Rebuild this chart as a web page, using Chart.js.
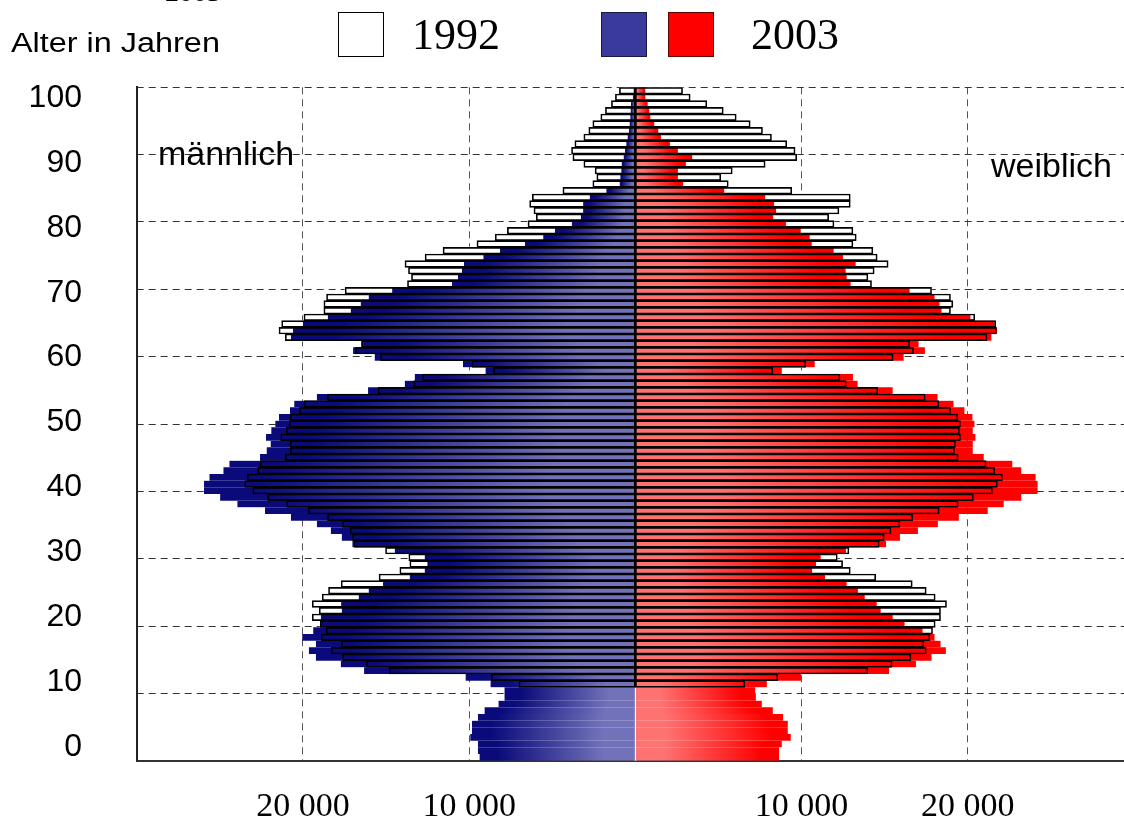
<!DOCTYPE html>
<html>
<head>
<meta charset="utf-8">
<script src="https://cdn.jsdelivr.net/npm/chart.js@4.4.0/dist/chart.umd.min.js"></script>
<style>
  html, body { margin: 0; padding: 0; background: #fff; overflow: hidden; }
  #wrap { position: relative; width: 1124px; height: 820px; overflow: hidden; }
  #wrap canvas { position: absolute; left: 0; top: 0; }
  .t { position: absolute; line-height: 0; white-space: nowrap; color: #000; }
  .sans { font-family: "Liberation Sans", Arial, sans-serif; }
  .serif { font-family: "Liberation Serif", "Times New Roman", serif; }
  .box { position: absolute; box-sizing: border-box; width: 46px; height: 45px; top: 12px; border: 1px solid #000; }
</style>
</head>
<body>
<div id="wrap">
  <canvas id="my-chart" width="1160" height="820"></canvas>

  <span class="t serif" style="font-size:28px; left:165px; top:-8px">2003</span>
  <span class="t sans" style="font-size:27px; left:11px; top:43px; transform:scaleX(1.2); transform-origin:left">Alter in Jahren</span>
  <div class="box" style="left:338px; background:#fff"></div>
  <span class="t serif" style="font-size:44px; left:412px; top:35px">1992</span>
  <div class="box" style="left:601px; background:#3a3a9c; border-color:#1a1a40"></div>
  <div class="box" style="left:668px; background:#ff0000; border-color:#600"></div>
  <span class="t serif" style="font-size:44px; left:751px; top:35px">2003</span>
  <span class="t sans" style="font-size:34px; left:158px; top:153px">männlich</span>
  <span class="t sans" style="font-size:34px; left:991px; top:165px">weiblich</span>
</div>

<script>
// ages 0..100, values in thousands of persons
const ages = Array.from({ length: 101 }, (_, i) => i);

const male2003 = [
  9.37, 9.47, 9.47, 9.93, 9.83, 9.83, 9.47, 9.07, 8.23, 7.87,
  7.87, 8.71, 10.21, 16.32, 17.72, 19.22, 19.64, 19.22, 20.04, 19.38,
  18.96, 18.92, 17.66, 17.7, 16.64, 16.04, 15.18, 13.57, 12.67, 12.51,
  12.67, 14.47, 17.02, 17.66, 18.32, 19.16, 20.72, 22.28, 23.94, 24.98,
  25.95, 25.95, 25.62, 24.78, 24.42, 22.58, 22.18, 21.94, 22.22, 21.9,
  21.66, 21.44, 20.78, 20.52, 19.16, 16.08, 13.87, 13.27, 9.01, 10.37,
  15.68, 16.98, 16.44, 20.72, 20.6, 20.0, 18.5, 17.12, 16.52, 16.04,
  14.63, 11.03, 10.67, 10.43, 10.31, 9.14, 8.14, 6.64, 5.54, 4.84,
  3.82, 3.28, 3.14, 3.14, 2.74, 1.74, 0.94, 0.9, 0.84, 0.82,
  0.7, 0.62, 0.54, 0.46, 0.38, 0.34, 0.3, 0.28, 0.26, 0.15,
  0.1
];

const female2003 = [
  8.65, 8.65, 8.81, 9.35, 9.17, 9.17, 8.89, 8.27, 7.61, 7.25,
  7.21, 7.91, 9.97, 15.26, 16.88, 17.82, 18.68, 18.36, 18.0, 17.28,
  16.2, 15.48, 14.76, 14.52, 13.8, 13.39, 12.71, 11.41, 10.63, 10.87,
  11.15, 12.67, 15.08, 15.92, 17.0, 18.2, 19.46, 21.2, 22.16, 23.22,
  24.2, 24.2, 24.08, 23.22, 22.68, 20.96, 20.3, 20.3, 20.46, 20.3,
  20.4, 20.28, 19.8, 19.14, 18.18, 15.48, 13.37, 13.09, 8.81, 10.79,
  16.14, 17.42, 17.04, 21.42, 21.76, 21.6, 20.16, 18.42, 18.3, 18.0,
  16.5, 12.95, 12.71, 12.65, 13.25, 12.49, 11.93, 10.61, 10.49, 9.95,
  9.07, 8.29, 8.47, 8.35, 7.81, 5.35, 2.88, 2.56, 2.56, 3.04,
  3.42, 2.56, 2.08, 1.54, 1.38, 1.14, 0.9, 0.84, 0.74, 0.6,
  0.6
];

// 1992 values exist from age 11 on
const male1992 = [
  null, null, null, null, null, null, null, null, null, null,
  null, 7.01, 8.67, 14.8, 16.18, 17.62, 18.3, 17.68, 18.9, 18.6,
  18.96, 19.44, 19.02, 19.44, 18.84, 18.46, 17.7, 15.42, 14.17, 13.57,
  13.63, 15.03, 16.92, 17.02, 17.16, 17.62, 18.52, 19.68, 20.98, 22.12,
  23.02, 23.5, 23.34, 22.72, 22.58, 21.06, 20.76, 20.76, 21.34, 21.0,
  20.82, 20.76, 20.2, 19.92, 18.52, 15.48, 13.33, 12.81, 8.53, 9.83,
  15.33, 16.84, 16.48, 21.06, 21.44, 21.28, 19.94, 18.74, 18.74, 18.58,
  17.46, 13.71, 13.47, 13.65, 13.86, 12.65, 11.57, 9.53, 8.43, 7.7,
  6.46, 5.96, 6.1, 6.36, 6.2, 4.36, 2.56, 2.32, 2.42, 3.1,
  3.76, 3.84, 3.64, 3.1, 2.8, 2.56, 2.08, 1.8, 1.44, 1.2,
  0.96
];

const female1992 = [
  null, null, null, null, null, null, null, null, null, null,
  null, 6.59, 8.57, 13.99, 15.45, 16.58, 17.5, 17.36, 17.72, 17.88,
  18.04, 18.36, 18.36, 18.72, 18.04, 17.5, 16.66, 14.46, 12.93, 12.47,
  12.15, 12.85, 14.67, 14.97, 15.38, 15.92, 16.68, 18.28, 19.42, 20.34,
  21.48, 21.78, 22.08, 21.62, 21.1, 19.42, 19.2, 19.26, 19.56, 19.5,
  19.56, 19.4, 18.96, 18.26, 17.44, 14.59, 12.69, 12.31, 8.27, 10.25,
  15.51, 16.74, 16.5, 21.16, 21.72, 21.68, 20.42, 18.96, 19.1, 18.96,
  17.82, 14.21, 13.99, 14.37, 15.21, 14.55, 14.29, 13.09, 13.29, 13.09,
  11.95, 11.63, 12.25, 12.93, 12.93, 9.41, 5.59, 5.14, 5.83, 7.81,
  9.71, 9.61, 9.11, 8.19, 7.65, 6.91, 6.07, 5.29, 4.3, 3.3,
  2.84
];

const xTicks = [-30000, -20000, -10000, 10000, 20000, 30000];
const xTickLabels = { "-20000": "20 000", "-10000": "10 000", "10000": "10 000", "20000": "20 000" };
const yTicks = [0, 10, 20, 30, 40, 50, 60, 70, 80, 90, 100];
const yGrid = [100.5, 90.4, 80.3, 70.2, 60.1, 50, 39.9, 29.8, 19.7, 9.6, -0.5];

function points(values, sign) {
  const out = [];
  ages.forEach(function (age, i) {
    if (values[i] != null) out.push({ y: age, x: sign * values[i] * 1000 });
  });
  return out;
}

function barGradient(context, dark, light) {
  const chart = context.chart;
  const xs = chart.scales.x;
  if (!xs || !context.parsed) return light;
  const x0 = xs.getPixelForValue(0);
  const x1 = xs.getPixelForValue(context.parsed.x);
  if (!isFinite(x0) || !isFinite(x1) || x0 === x1) return light;
  const g = chart.ctx.createLinearGradient(x1, 0, x0, 0);
  g.addColorStop(0, dark);
  g.addColorStop(0.12, dark);
  g.addColorStop(0.8, light);
  g.addColorStop(1, light);
  return g;
}

const common = { xAxisID: "x", yAxisID: "y", barPercentage: 1, categoryPercentage: 1 };

const ctx = document.getElementById("my-chart").getContext("2d");
const chart = new Chart(ctx, {
  type: "bar",
  data: {
    datasets: [
      Object.assign({ label: "1992 männlich", data: points(male1992, -1), backgroundColor: "#ffffff", borderWidth: 0, inflateAmount: 0.5, order: 3 }, common),
      Object.assign({ label: "1992 weiblich", data: points(female1992, 1), backgroundColor: "#ffffff", borderWidth: 0, inflateAmount: 0.5, order: 3 }, common),
      Object.assign({
        label: "2003 männlich",
        data: points(male2003, -1),
        backgroundColor: (c) => barGradient(c, "#0a0a7a", "#7272ba"),
        borderColor: "#ffffff",
        borderWidth: { left: 0, right: 1, top: 0, bottom: 0 },
        borderSkipped: false,
        inflateAmount: 0.5,
        order: 2,
      }, common),
      Object.assign({
        label: "2003 weiblich",
        data: points(female2003, 1),
        backgroundColor: (c) => barGradient(c, "#ff0000", "#ff7272"),
        borderColor: "#ffffff",
        borderWidth: { left: 1, right: 0, top: 0, bottom: 0 },
        borderSkipped: false,
        inflateAmount: 0.5,
        order: 2,
      }, common),
      Object.assign({ label: "1992 männlich Rand", data: points(male1992, -1), backgroundColor: "rgba(0,0,0,0)", borderColor: "#000000", borderWidth: 1, borderSkipped: false, order: 1 }, common),
      Object.assign({ label: "1992 weiblich Rand", data: points(female1992, 1), backgroundColor: "rgba(0,0,0,0)", borderColor: "#000000", borderWidth: 1, borderSkipped: false, order: 1 }, common),
    ],
  },
  options: {
    indexAxis: "y",
    responsive: false,
    animation: false,
    grouped: false,
    layout: { padding: { top: 87.3, left: 0, right: 24, bottom: 0 } },
    plugins: {
      legend: { display: false },
      tooltip: { enabled: false },
    },
    scales: {
      x: {
        type: "linear",
        position: "bottom",
        min: -30000,
        max: 30000,
        offset: false,
        afterBuildTicks: (s) => { s.ticks = xTicks.map((v) => ({ value: v })); },
        afterFit: (s) => { s.height = 59.3; },
        grid: { color: "#555555", lineWidth: 1, drawTicks: false },
        border: { display: true, color: "#333333", width: 2, dash: [7, 5] },
        ticks: {
          callback: (v) => xTickLabels[String(v)] || "",
          font: { family: "Liberation Serif", size: 34 },
          color: "#000000",
          padding: 26,
          maxRotation: 0,
          autoSkip: false,
        },
      },
      y: {
        type: "linear",
        position: "right",
        min: -0.5,
        max: 100.5,
        offset: false,
        afterBuildTicks: (s) => { s.ticks = yGrid.map((v) => ({ value: v })); },
        afterFit: (s) => { s.width = 0; },
        ticks: { display: false, padding: 0 },
        grid: { color: "#333333", lineWidth: 1, drawTicks: false, offset: false },
        border: { display: false, dash: [7, 5] },
      },
      yl: {
        type: "linear",
        position: "left",
        min: -2.11,
        max: 101.65,
        offset: false,
        bounds: "data",
        afterBuildTicks: (s) => { s.ticks = yTicks.map((v) => ({ value: v })); },
        afterFit: (s) => { s.width = 136.7; },
        grid: { display: false, drawTicks: true, tickLength: 50, offset: false },
        border: { display: true, color: "#222222", width: 2 },
        ticks: {
          font: { family: "Liberation Sans", size: 32 },
          color: "#000000",
          padding: 4.7,
        },
      },
    },
  },
});
</script>
</body>
</html>
